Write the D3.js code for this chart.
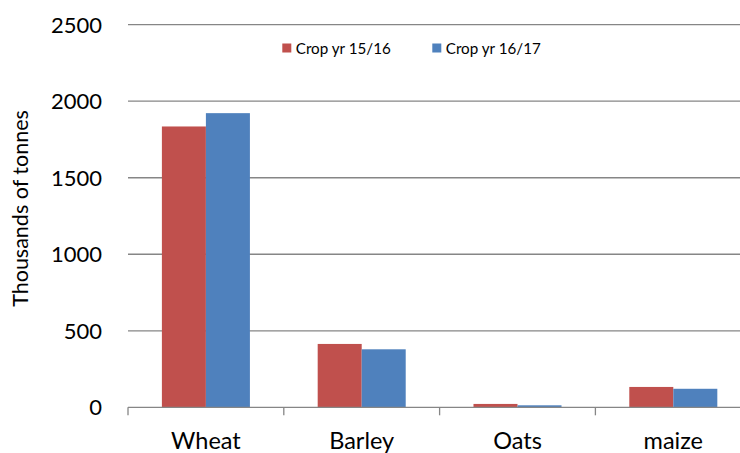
<!DOCTYPE html>
<html><head><meta charset="utf-8">
<script src="https://cdn.jsdelivr.net/npm/d3@7"></script>
<style>body{margin:0;background:#fff;}svg{display:block;}</style>
</head><body>
<script>
const categories = ["Wheat", "Barley", "Oats", "maize"];
const seriesNames = ["Crop yr 15/16", "Crop yr 16/17"];
const crop1516 = [1835, 414, 22, 133];
const crop1617 = [1922, 379, 13, 121];
const yTicks = [0, 500, 1000, 1500, 2000, 2500];
const colors = ["#C0504D", "#4F81BD"];

const W = 740, H = 453;
const font = "Lato, 'Open Sans', sans-serif";
const svg = d3.select("body").append("svg").attr("width", W).attr("height", H);

const x0 = d3.scaleBand().domain(categories).range([128, 751.2]).paddingInner(0).paddingOuter(0);
const x1 = d3.scaleBand().domain(seriesNames).range([0, x0.bandwidth()]).paddingInner(0).paddingOuter(0.77);
const y = d3.scaleLinear().domain([0, 2500]).range([407.3, 24.7]);

// gridlines
svg.append("g").selectAll("line").data(yTicks.filter(d => d > 0)).join("line")
  .attr("x1", 128).attr("x2", W).attr("y1", d => y(d)).attr("y2", d => y(d))
  .attr("stroke", "#868686").attr("stroke-width", 1.3);

// y labels
svg.append("g").selectAll("text").data(yTicks).join("text")
  .attr("x", 102).attr("y", d => y(d)).attr("dy", "0.36em")
  .attr("text-anchor", "end").attr("font-family", font).attr("font-size", 22).attr("fill", "#000")
  .text(d => d);

// bars
const data = categories.map((c, i) => ({cat: c, vals: [crop1516[i], crop1617[i]]}));
const g = svg.append("g");
data.forEach(d => {
  d.vals.forEach((v, j) => {
    g.append("rect")
      .attr("x", x0(d.cat) + x1(seriesNames[j]))
      .attr("y", y(v))
      .attr("width", x1.bandwidth())
      .attr("height", y(0) - y(v))
      .attr("fill", colors[j]);
  });
});

// x axis
const xAxis = d3.axisBottom(x0).tickSize(0).tickFormat("");
const ax = svg.append("g").attr("transform", `translate(0,${y(0)})`).call(xAxis);
ax.select(".domain").attr("stroke", "#868686").attr("stroke-width", 1.3).attr("d", `M128,0H751`);
const bounds = categories.map(c => x0(c)).concat([x0(categories[3]) + x0.bandwidth()]);
ax.selectAll(".bt").data(bounds).join("line").attr("class", "bt")
  .attr("x1", d => d).attr("x2", d => d).attr("y1", 0).attr("y2", 8)
  .attr("stroke", "#868686").attr("stroke-width", 1.3);
svg.append("g").selectAll("text").data(categories).join("text")
  .attr("x", d => x0(d) + x0.bandwidth() / 2).attr("y", 449)
  .attr("text-anchor", "middle").attr("font-family", font).attr("font-size", 23.5).attr("fill", "#000")
  .text(d => d);

// y title
svg.append("text").attr("transform", "translate(28,208.5) rotate(-90)")
  .attr("text-anchor", "middle").attr("font-family", font).attr("font-size", 21.5).attr("fill", "#000")
  .text("Thousands of tonnes");

// legend
const legX = [282.3, 432.3];
seriesNames.forEach((s, i) => {
  svg.append("rect").attr("x", legX[i]).attr("y", 43.5).attr("width", 9).attr("height", 9).attr("fill", colors[i]);
  svg.append("text").attr("x", legX[i] + 13.5).attr("y", 53.5)
    .attr("font-family", font).attr("font-size", 15.2).attr("fill", "#000").text(s);
});
</script>
</body></html>
